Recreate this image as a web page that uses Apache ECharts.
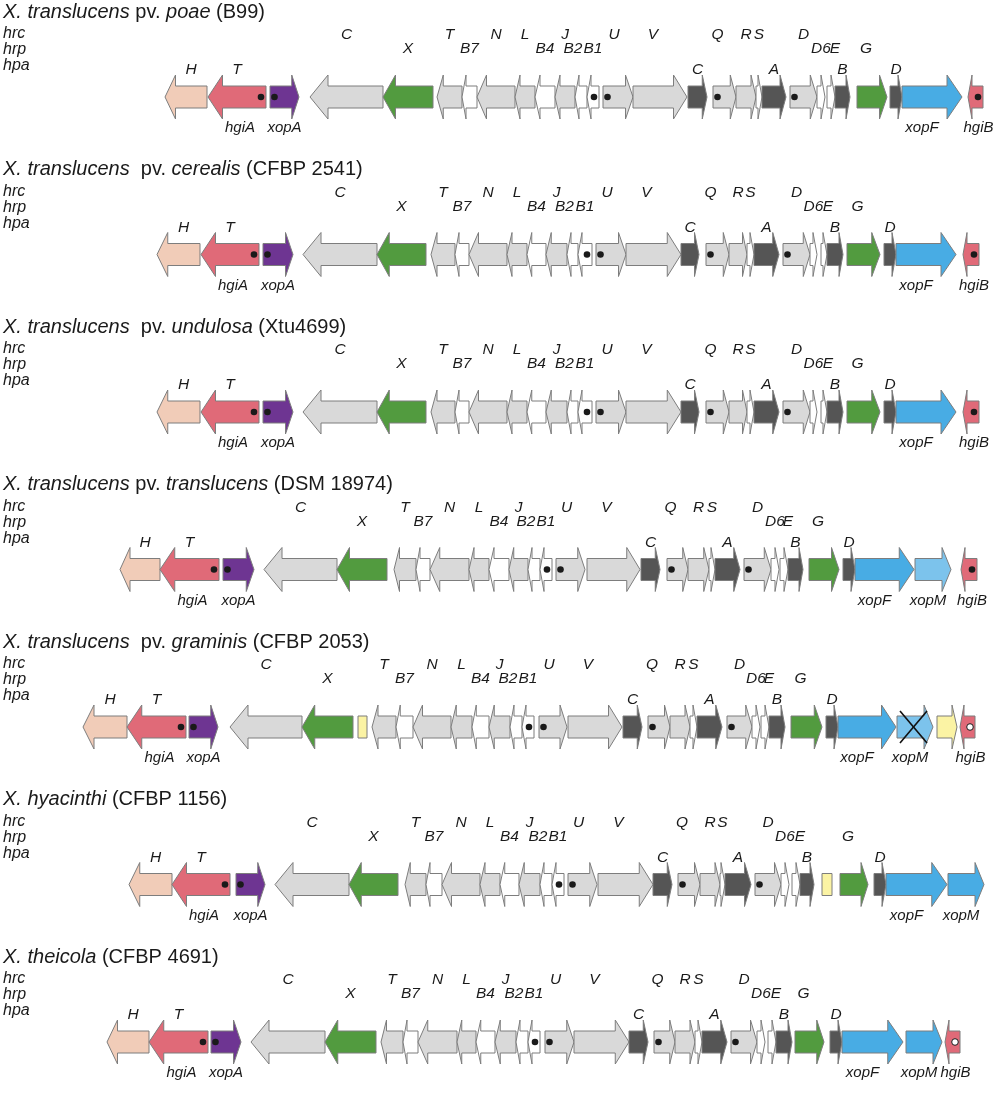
<!DOCTYPE html>
<html>
<head>
<meta charset="utf-8">
<script src="https://cdn.jsdelivr.net/npm/echarts@6/dist/echarts.min.js"></script>
<style>
  html, body { margin: 0; padding: 0; background: #fff; }
  .info { width: 1000px; height: 1104px; }
</style>
</head>
<body>
<div class="info"></div>
<script>
// 菌株标题（rich 文本：{i|...} 为斜体）
var titles = [
    '{i|X. translucens} pv. {i|poae} (B99)',
    '{i|X. translucens}  pv. {i|cerealis} (CFBP 2541)',
    '{i|X. translucens}  pv. {i|undulosa} (Xtu4699)',
    '{i|X. translucens} pv. {i|translucens} (DSM 18974)',
    '{i|X. translucens}  pv. {i|graminis} (CFBP 2053)',
    '{i|X. hyacinthi} (CFBP 1156)',
    '{i|X. theicola} (CFBP 4691)'
]
var sideLabels = ['hrc', 'hrp', 'hpa']

// 每个菌株的基因：[基因, 起点, 终点]
var poae = [
    ['hpaH', 165, 207], ['hgiA', 208, 266], ['xopA', 270, 299], ['hrcC', 310, 383], ['hrpX', 383, 433],
    ['hrcT', 437, 462], ['hrpB7', 462, 477], ['hrcN', 477, 515], ['hrcL', 515, 535], ['hrpB4', 535, 555],
    ['hrcJ', 555, 575], ['hrpB2', 575, 587], ['hrpB1', 587, 599], ['hrcU', 603, 633], ['hrcV', 633, 687],
    ['hpaC', 688, 707], ['hrcQ', 713, 736], ['hrcR', 736, 756], ['hrcS', 756, 762], ['hpaA', 762, 786],
    ['hrcD', 790, 817], ['hrpD6', 817, 825], ['hrpE', 827, 835], ['hpaB', 835, 850], ['hrpG', 857, 887],
    ['hpaD', 890, 902], ['xopF', 902, 962], ['hgiB', 968, 983]
]
var cerealis = [
    ['hpaH', 157, 200], ['hgiA', 201, 259], ['xopA', 263, 293], ['hrcC', 303, 377], ['hrpX', 377, 426],
    ['hrcT', 431, 455], ['hrpB7', 455, 469], ['hrcN', 469, 507], ['hrcL', 507, 527], ['hrpB4', 527, 546],
    ['hrcJ', 546, 567], ['hrpB2', 567, 578], ['hrpB1', 578, 592], ['hrcU', 596, 626], ['hrcV', 626, 681],
    ['hpaC', 681, 699], ['hrcQ', 706, 729], ['hrcR', 729, 747], ['hrcS', 747, 754], ['hpaA', 754, 779],
    ['hrcD', 783, 810], ['hrpD6', 810, 817], ['hrpE', 821, 827], ['hpaB', 827, 843], ['hrpG', 847, 880],
    ['hpaD', 884, 896], ['xopF', 896, 956], ['hgiB', 963, 979]
]
var undulosa = [
    ['hpaH', 157, 200], ['hgiA', 201, 259], ['xopA', 263, 293], ['hrcC', 303, 377], ['hrpX', 377, 426],
    ['hrcT', 431, 455], ['hrpB7', 455, 469], ['hrcN', 469, 507], ['hrcL', 507, 527], ['hrpB4', 527, 546],
    ['hrcJ', 546, 567], ['hrpB2', 567, 578], ['hrpB1', 578, 592], ['hrcU', 596, 626], ['hrcV', 626, 681],
    ['hpaC', 681, 699], ['hrcQ', 706, 729], ['hrcR', 729, 747], ['hrcS', 747, 754], ['hpaA', 754, 779],
    ['hrcD', 783, 810], ['hrpD6', 810, 817], ['hrpE', 821, 827], ['hpaB', 827, 843], ['hrpG', 847, 880],
    ['hpaD', 884, 896], ['xopF', 896, 956], ['hgiB', 963, 979]
]
var translucens = [
    ['hpaH', 120, 160], ['hgiA', 160, 219], ['xopA', 223, 254], ['hrcC', 264, 337], ['hrpX', 337, 387],
    ['hrcT', 394, 416], ['hrpB7', 416, 430], ['hrcN', 430, 469], ['hrcL', 469, 489], ['hrpB4', 489, 509],
    ['hrcJ', 509, 528], ['hrpB2', 528, 540], ['hrpB1', 540, 552], ['hrcU', 556, 585], ['hrcV', 587, 640],
    ['hpaC', 641, 660], ['hrcQ', 667, 688], ['hrcR', 688, 709], ['hrcS', 709, 715], ['hpaA', 715, 740],
    ['hrcD', 744, 771], ['hrpD6', 771, 779], ['hrpE', 780, 788], ['hpaB', 788, 803], ['hrpG', 809, 839],
    ['hpaD', 843, 855], ['xopF', 855, 914], ['xopMl', 915, 951], ['hgiB', 961, 977]
]
var graminis = [
    ['hpaH', 83, 127], ['hgiA', 127, 186], ['xopA', 189, 218], ['hrcC', 230, 302], ['hrpX', 302, 353],
    ['orfY', 358, 367], ['hrcT', 372, 396], ['hrpB7', 396, 413], ['hrcN', 413, 451], ['hrcL', 451, 472],
    ['hrpB4', 472, 489], ['hrcJ', 489, 510], ['hrpB2', 510, 522], ['hrpB1', 522, 534], ['hrcU', 539, 567],
    ['hrcV', 568, 622], ['hpaC', 623, 642], ['hrcQ', 648, 670], ['hrcR', 670, 690], ['hrcS', 690, 697],
    ['hpaA', 697, 722], ['hrcD', 727, 752], ['hrpD6', 752, 760], ['hrpE', 761, 769], ['hpaB', 769, 785],
    ['hrpG', 791, 822], ['hpaD', 826, 838], ['xopF', 838, 896], ['xopMx', 897, 933], ['orfYR', 937, 957],
    ['hgiBo', 960, 975]
]
var hyacinthi = [
    ['hpaH', 129, 172], ['hgiA', 172, 230], ['xopA', 236, 265], ['hrcC', 275, 349], ['hrpX', 349, 398],
    ['hrcT', 405, 426], ['hrpB7', 426, 442], ['hrcN', 442, 480], ['hrcL', 480, 500], ['hrpB4', 500, 519],
    ['hrcJ', 519, 540], ['hrpB2', 540, 552], ['hrpB1', 552, 564], ['hrcU', 568, 597], ['hrcV', 598, 653],
    ['hpaC', 653, 672], ['hrcQ', 678, 700], ['hrcR', 700, 720], ['hrcS', 720, 725], ['hpaA', 725, 751],
    ['hrcD', 755, 781], ['hrpD6', 781, 789], ['hrpE', 792, 800], ['hpaB', 800, 814], ['orfY', 822, 832],
    ['hrpG', 840, 868], ['hpaD', 874, 886], ['xopF', 886, 947], ['xopM', 948, 984]
]
var theicola = [
    ['hpaH', 107, 149], ['hgiA', 149, 208], ['xopA', 211, 241], ['hrcC', 251, 325], ['hrpX', 325, 376],
    ['hrcT', 381, 403], ['hrpB7', 403, 418], ['hrcN', 418, 457], ['hrcL', 457, 476], ['hrpB4', 476, 495],
    ['hrcJ', 495, 516], ['hrpB2', 516, 528], ['hrpB1', 528, 540], ['hrcU', 545, 574], ['hrcV', 574, 629],
    ['hpaC', 629, 648], ['hrcQ', 654, 675], ['hrcR', 675, 695], ['hrcS', 695, 702], ['hpaA', 702, 727],
    ['hrcD', 731, 757], ['hrpD6', 757, 765], ['hrpE', 768, 776], ['hpaB', 776, 792], ['hrpG', 795, 824],
    ['hpaD', 830, 842], ['xopF', 842, 903], ['xopM', 906, 942], ['hgiBo', 945, 960]
]
var strains = [poae, cerealis, undulosa, translucens, graminis, hyacinthi, theicola]

// 基因信息：上方标签、所在行、下方标签、类别、方向（-1 向左，1 向右，0 矩形）、圆点
var geneInfo = {
    hpaH: { top: 'H', line: 'hpa', kind: 'peach', dir: -1 },
    hgiA: { top: 'T', line: 'hpa', bottom: 'hgiA', kind: 'red', dir: -1, dot: 1 },
    xopA: { bottom: 'xopA', kind: 'purple', dir: 1, dot: 1 },
    hrcC: { top: 'C', line: 'hrc', kind: 'gray', dir: -1 },
    hrpX: { top: 'X', line: 'hrp', kind: 'green', dir: -1 },
    hrcT: { top: 'T', line: 'hrc', kind: 'gray', dir: -1 },
    hrpB7: { top: 'B7', line: 'hrp', kind: 'white', dir: -1 },
    hrcN: { top: 'N', line: 'hrc', kind: 'gray', dir: -1 },
    hrcL: { top: 'L', line: 'hrc', kind: 'gray', dir: -1 },
    hrpB4: { top: 'B4', line: 'hrp', kind: 'white', dir: -1 },
    hrcJ: { top: 'J', line: 'hrc', kind: 'gray', dir: -1 },
    hrpB2: { top: 'B2', line: 'hrp', kind: 'white', dir: -1 },
    hrpB1: { top: 'B1', line: 'hrp', kind: 'white', dir: -1, dot: 1 },
    hrcU: { top: 'U', line: 'hrc', kind: 'gray', dir: 1, dot: 1 },
    hrcV: { top: 'V', line: 'hrc', kind: 'gray', dir: 1 },
    hpaC: { top: 'C', line: 'hpa', kind: 'dark', dir: 1 },
    hrcQ: { top: 'Q', line: 'hrc', kind: 'gray', dir: 1, dot: 1 },
    hrcR: { top: 'R', line: 'hrc', kind: 'gray', dir: 1 },
    hrcS: { top: 'S', line: 'hrc', kind: 'white', dir: 1 },
    hpaA: { top: 'A', line: 'hpa', kind: 'dark', dir: 1 },
    hrcD: { top: 'D', line: 'hrc', kind: 'gray', dir: 1, dot: 1 },
    hrpD6: { top: 'D6', line: 'hrp', kind: 'white', dir: 1 },
    hrpE: { top: 'E', line: 'hrp', kind: 'white', dir: 1 },
    hpaB: { top: 'B', line: 'hpa', kind: 'dark', dir: 1 },
    hrpG: { top: 'G', line: 'hrp', kind: 'green', dir: 1 },
    hpaD: { top: 'D', line: 'hpa', kind: 'dark', dir: 1 },
    xopF: { bottom: 'xopF', kind: 'blue', dir: 1 },
    xopM: { bottom: 'xopM', kind: 'blue', dir: 1 },
    xopMl: { bottom: 'xopM', kind: 'light', dir: 1 },
    xopMx: { bottom: 'xopM', kind: 'light', dir: 1, cross: true },
    hgiB: { bottom: 'hgiB', kind: 'red', dir: -1, dot: 1 },
    hgiBo: { bottom: 'hgiB', kind: 'red', dir: -1, dot: 2 },
    orfY: { kind: 'yellow', dir: 0 },
    orfYR: { kind: 'yellow', dir: 1 }
}

// 样式
var fills = {
    peach: '#f1ccb8', red: '#e06a78', purple: '#6e3592', gray: '#d9d9d9', white: '#ffffff',
    green: '#529b3f', dark: '#555555', blue: '#48ace4', light: '#7cc3ec', yellow: '#fbf3a4'
}
var lineOffset = { hrc: -62, hrp: -48, hpa: -27 }
var sideOffset = { hrc: -63, hrp: -47, hpa: -31 }
var labelNudge = { B2: -8, E: 4, V: -7, Q: -7, G: -6, U: -4, xopF: -10, xopM: -5, hgiB: 3, H: 5, hgiA: 3 }
var labelFont = 'italic 15.5px "Liberation Sans", Arial, sans-serif'
var bottomFont = 'italic 15px "Liberation Sans", Arial, sans-serif'
var sideFont = 'italic 16px "Liberation Sans", Arial, sans-serif'
var BODY = 11, HEAD = 22;

(function () {
    var myChart = echarts.init(document.querySelector('.info'))

    var geneList = []
    var geneData = []
    strains.forEach(function (rows, r) {
        rows.forEach(function (g) {
            geneList.push(g[0])
            geneData.push([g[1], g[2], r])
        })
    })

    function renderGene(params, api) {
        var info = geneInfo[geneList[params.dataIndex]]
        var p0 = api.coord([api.value(0), api.value(2)])
        var p1 = api.coord([api.value(1), api.value(2)])
        var x0 = p0[0], x1 = p1[0], cy = p0[1]
        var len = x1 - x0
        var hl = Math.min(Math.max(len * 0.25, 4), 18)
        var pts
        if (info.dir === 1) {
            pts = [[x0, cy - BODY], [x1 - hl, cy - BODY], [x1 - hl, cy - HEAD], [x1, cy],
                [x1 - hl, cy + HEAD], [x1 - hl, cy + BODY], [x0, cy + BODY]]
        } else if (info.dir === -1) {
            pts = [[x1, cy - BODY], [x0 + hl, cy - BODY], [x0 + hl, cy - HEAD], [x0, cy],
                [x0 + hl, cy + HEAD], [x0 + hl, cy + BODY], [x1, cy + BODY]]
        } else {
            pts = [[x0, cy - BODY], [x1, cy - BODY], [x1, cy + BODY], [x0, cy + BODY]]
        }
        var children = [{
            type: 'polygon',
            shape: { points: pts },
            style: { fill: fills[info.kind], stroke: '#7d7d7d', lineWidth: 1 }
        }]
        if (info.cross) {
            children.push({ type: 'line', shape: { x1: x0 + 3, y1: cy - 16, x2: x1 - hl + 3, y2: cy + 16 }, style: { stroke: '#111', lineWidth: 1.6 } })
            children.push({ type: 'line', shape: { x1: x0 + 3, y1: cy + 16, x2: x1 - hl + 3, y2: cy - 16 }, style: { stroke: '#111', lineWidth: 1.6 } })
        }
        if (info.dot) {
            var dx = info.dir === -1 ? x1 - 5 : x0 + 4.5
            children.push({
                type: 'circle',
                shape: { cx: dx, cy: cy, r: 3.3 },
                style: info.dot === 1 ? { fill: '#1a1a1a' } : { fill: '#fff', stroke: '#1a1a1a', lineWidth: 1 }
            })
        }
        var mid = (x0 + x1) / 2
        if (info.top) {
            children.push({
                type: 'text',
                x: mid + (labelNudge[info.top] || 0), y: cy + lineOffset[info.line],
                style: { text: info.top, font: labelFont, fill: '#1a1a1a', align: 'center', verticalAlign: 'middle' }
            })
        }
        if (info.bottom) {
            children.push({
                type: 'text',
                x: mid + (labelNudge[info.bottom] || 0), y: cy + 31,
                style: { text: info.bottom, font: bottomFont, fill: '#1a1a1a', align: 'center', verticalAlign: 'middle' }
            })
        }
        return { type: 'group', children: children }
    }

    function renderRow(params, api) {
        var p = api.coord([0, api.value(1)])
        var cy = p[1]
        var children = [{
            type: 'text',
            x: p[0] + 3, y: cy - 85,
            style: {
                text: titles[params.dataIndex],
                font: '20px "Liberation Sans", Arial, sans-serif',
                fill: '#1a1a1a', align: 'left', verticalAlign: 'middle',
                rich: { i: { fontStyle: 'italic', fontSize: 20, fontFamily: 'Liberation Sans', fill: '#1a1a1a' } }
            }
        }]
        sideLabels.forEach(function (s) {
            children.push({
                type: 'text',
                x: p[0] + 3, y: cy + sideOffset[s],
                style: { text: s, font: sideFont, fill: '#1a1a1a', align: 'left', verticalAlign: 'middle' }
            })
        })
        return { type: 'group', children: children }
    }

    var option = {
        animation: false,
        grid: { left: 0, right: 0, top: 97, bottom: 62 },
        xAxis: { type: 'value', min: 0, max: 1000, show: false },
        yAxis: { type: 'value', min: 0, max: 6, inverse: true, show: false },
        series: [
            {
                type: 'custom',
                renderItem: renderRow,
                encode: { x: 0, y: 1 },
                data: titles.map(function (t, i) { return [0, i] })
            },
            {
                type: 'custom',
                renderItem: renderGene,
                encode: { x: [0, 1], y: 2 },
                data: geneData
            }
        ]
    }

    myChart.setOption(option)
    window.addEventListener('resize', function () {
        myChart.resize()
    })
})()
</script>
</body>
</html>
